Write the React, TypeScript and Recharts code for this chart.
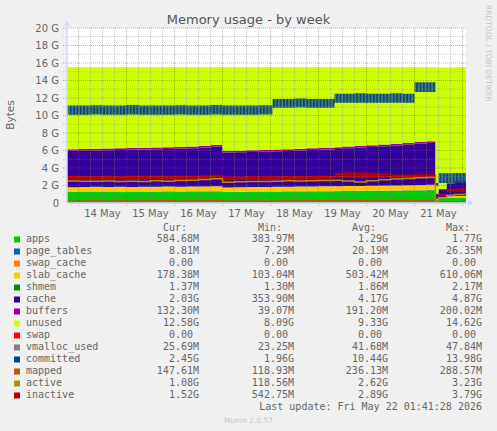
import React from 'react'
import { ComposedChart, Area, Line, XAxis, YAxis, ReferenceLine } from 'recharts'

// hours since 14 May 00:00 (plot spans 13 May ~18:15 .. 22 May ~01:45)
const hours = [-5.75, 0, 6, 12, 18, 24, 30, 36, 42, 48, 54, 60, 66, 72, 78, 84, 90, 97, 102, 108, 114, 120, 128, 132, 138, 144, 150, 156, 162, 168, 174, 178.5, 180, 184, 188, 193.75]

// values in GiB
const apps = [1.27, 1.28, 1.29, 1.28, 1.3, 1.29, 1.3, 1.29, 1.31, 1.3, 1.32, 1.31, 1.33, 1.26, 1.27, 1.28, 1.29, 1.3, 1.31, 1.32, 1.33, 1.33, 1.35, 1.36, 1.37, 1.38, 1.39, 1.4, 1.42, 1.44, 1.47, 0.38, 0.55, 0.6, 0.63, 0.58]
const pageTables = [0.021, 0.021, 0.022, 0.021, 0.022, 0.021, 0.022, 0.022, 0.022, 0.021, 0.022, 0.022, 0.023, 0.02, 0.02, 0.021, 0.021, 0.021, 0.022, 0.022, 0.022, 0.022, 0.023, 0.023, 0.023, 0.024, 0.024, 0.025, 0.025, 0.026, 0.026, 0.007, 0.008, 0.008, 0.009, 0.009]
const swapCache = [0, 0, 0, 0, 0, 0, 0, 0, 0, 0, 0, 0, 0, 0, 0, 0, 0, 0, 0, 0, 0, 0, 0, 0, 0, 0, 0, 0, 0, 0, 0, 0, 0, 0, 0, 0]
const slabCache = [0.52, 0.52, 0.53, 0.52, 0.53, 0.52, 0.53, 0.53, 0.54, 0.53, 0.54, 0.54, 0.55, 0.5, 0.51, 0.52, 0.52, 0.53, 0.53, 0.54, 0.54, 0.55, 0.55, 0.56, 0.56, 0.57, 0.57, 0.58, 0.58, 0.59, 0.6, 0.1, 0.14, 0.16, 0.17, 0.18]
const shmem = [0.002, 0.002, 0.002, 0.002, 0.002, 0.002, 0.002, 0.002, 0.002, 0.002, 0.002, 0.002, 0.002, 0.002, 0.002, 0.002, 0.002, 0.002, 0.002, 0.002, 0.002, 0.002, 0.002, 0.002, 0.002, 0.002, 0.002, 0.002, 0.002, 0.002, 0.002, 0.0013, 0.0013, 0.0013, 0.0013, 0.0013]
const cache = [4.15, 4.16, 4.17, 4.21, 4.2, 4.25, 4.25, 4.29, 4.29, 4.36, 4.37, 4.45, 4.52, 3.98, 3.99, 4.0, 4.03, 4.05, 4.09, 4.12, 4.16, 4.2, 4.26, 4.31, 4.37, 4.43, 4.5, 4.55, 4.63, 4.7, 4.76, 0.57, 0.82, 1.42, 1.67, 2.03]
const buffers = [0.19, 0.19, 0.19, 0.19, 0.2, 0.19, 0.2, 0.2, 0.2, 0.19, 0.2, 0.2, 0.2, 0.19, 0.19, 0.2, 0.2, 0.2, 0.2, 0.2, 0.2, 0.2, 0.2, 0.2, 0.2, 0.2, 0.2, 0.2, 0.2, 0.2, 0.2, 0.04, 0.08, 0.11, 0.12, 0.13]
const unused = [9.35, 9.33, 9.3, 9.28, 9.25, 9.23, 9.2, 9.17, 9.14, 9.1, 9.05, 8.98, 8.88, 9.55, 9.52, 9.48, 9.44, 9.4, 9.35, 9.3, 9.25, 9.2, 9.12, 9.05, 8.98, 8.9, 8.82, 8.75, 8.65, 8.55, 8.45, 14.4, 13.9, 13.2, 12.9, 12.57]
const swap = [0, 0, 0, 0, 0, 0, 0, 0, 0, 0, 0, 0, 0, 0, 0, 0, 0, 0, 0, 0, 0, 0, 0, 0, 0, 0, 0, 0, 0, 0, 0, 0, 0, 0, 0, 0]
const vmallocUsed = [0.044, 0.045, 0.045, 0.046, 0.045, 0.046, 0.046, 0.045, 0.046, 0.046, 0.047, 0.046, 0.047, 0.045, 0.045, 0.046, 0.046, 0.046, 0.047, 0.047, 0.047, 0.047, 0.047, 0.048, 0.047, 0.048, 0.048, 0.047, 0.048, 0.048, 0.048, 0.023, 0.024, 0.025, 0.026, 0.026]
// committed and inactive jitter fast, kept as low/high envelope per step
const committedLo = [10.1, 10.1, 10.12, 10.1, 10.1, 10.12, 10.1, 10.1, 10.1, 10.12, 10.1, 10.1, 10.12, 10.1, 10.1, 10.1, 10.12, 10.9, 10.9, 10.92, 10.9, 10.9, 11.45, 11.45, 11.47, 11.45, 11.45, 11.47, 11.45, 12.7, 12.7, 1.96, 2.3, 2.3, 2.32, 2.3]
const committedHi = [11.15, 11.15, 11.18, 11.15, 11.15, 11.2, 11.15, 11.15, 11.15, 11.18, 11.15, 11.15, 11.2, 11.15, 11.15, 11.15, 11.18, 11.9, 11.9, 11.95, 11.9, 11.9, 12.5, 12.5, 12.55, 12.5, 12.5, 12.55, 12.5, 13.8, 13.8, 2.3, 3.4, 3.4, 3.42, 3.4]
const mapped = [0.24, 0.24, 0.25, 0.24, 0.25, 0.24, 0.25, 0.25, 0.25, 0.24, 0.25, 0.25, 0.26, 0.23, 0.23, 0.24, 0.24, 0.24, 0.25, 0.25, 0.25, 0.26, 0.26, 0.26, 0.27, 0.27, 0.27, 0.28, 0.28, 0.28, 0.29, 0.12, 0.13, 0.14, 0.15, 0.15]
const active = [2.52, 2.5, 2.48, 2.52, 2.45, 2.5, 2.47, 2.53, 2.5, 2.56, 2.6, 2.68, 2.78, 2.38, 2.42, 2.45, 2.47, 2.5, 2.53, 2.52, 2.55, 2.57, 2.6, 2.52, 2.4, 2.55, 2.66, 2.74, 2.8, 2.88, 2.92, 0.12, 0.6, 0.85, 0.98, 1.08]
const inactiveLo = [2.62, 2.62, 2.63, 2.62, 2.64, 2.63, 2.64, 2.65, 2.66, 2.66, 2.68, 2.7, 2.72, 2.58, 2.59, 2.6, 2.61, 2.62, 2.63, 2.64, 2.65, 2.66, 2.85, 2.88, 2.9, 2.88, 2.86, 2.82, 2.83, 2.85, 2.86, 0.55, 0.75, 1.25, 1.3, 1.4]
const inactiveHi = [3.08, 3.1, 3.09, 3.11, 3.1, 3.12, 3.11, 3.13, 3.12, 3.14, 3.15, 3.18, 3.22, 3.02, 3.03, 3.05, 3.06, 3.07, 3.08, 3.1, 3.11, 3.12, 3.42, 3.48, 3.5, 3.46, 3.4, 3.25, 3.26, 3.28, 3.3, 0.72, 1.0, 1.6, 1.65, 1.6]

const dayTicks = [12, 36, 60, 84, 108, 132, 156, 180]
const dayLabels = ['14 May', '15 May', '16 May', '17 May', '18 May', '19 May', '20 May', '21 May']
const yTicks = [0, 2, 4, 6, 8, 10, 12, 14, 16, 18, 20]
const gridMajorY = [2, 4, 6, 8, 10, 12, 14, 16, 18, 20]
const gridMinorY = [1, 3, 5, 7, 9, 11, 13, 15, 17, 19]
const gridMajorX = [0, 24, 48, 72, 96, 120, 144, 168, 192]
const gridMinorX = [6, 12, 18, 30, 36, 42, 54, 60, 66, 78, 84, 90, 102, 108, 114, 126, 132, 138, 150, 156, 162, 174, 180, 186]

const legendNames = ['apps', 'page_tables', 'swap_cache', 'slab_cache', 'shmem', 'cache', 'buffers', 'unused', 'swap', 'vmalloc_used', 'committed', 'mapped', 'active', 'inactive']
const legendColors = ['#00CC00', '#0066B3', '#FF8000', '#FFCC00', '#008F00', '#330099', '#990099', '#CCFF00', '#FF0000', '#808080', '#00487D', '#B35A00', '#B38F00', '#B30000']
const curVals = ['584.68M', '8.81M', '0.00 ', '178.38M', '1.37M', '2.03G', '132.30M', '12.58G', '0.00 ', '25.69M', '2.45G', '147.61M', '1.08G', '1.52G']
const minVals = ['383.97M', '7.29M', '0.00 ', '103.04M', '1.30M', '353.90M', '39.07M', '8.09G', '0.00 ', '23.25M', '1.96G', '118.93M', '118.56M', '542.75M']
const avgVals = ['1.29G', '20.19M', '0.00 ', '503.42M', '1.86M', '4.17G', '191.20M', '9.33G', '0.00 ', '41.68M', '10.44G', '236.13M', '2.62G', '2.89G']
const maxVals = ['1.77G', '26.35M', '0.00 ', '610.06M', '2.17M', '4.87G', '200.02M', '14.62G', '0.00 ', '47.84M', '13.98G', '288.57M', '3.23G', '3.79G']

const rows = hours.map((t, i) => ({
  t,
  apps: apps[i],
  page_tables: pageTables[i],
  swap_cache: swapCache[i],
  slab_cache: slabCache[i],
  shmem: shmem[i],
  cache: cache[i],
  buffers: buffers[i],
  unused: unused[i],
  swap: swap[i],
  vmalloc_used: vmallocUsed[i],
  committed: [committedLo[i], committedHi[i]],
  mapped: mapped[i],
  active: active[i],
  inactive: [inactiveLo[i], inactiveHi[i]],
}))

const stacked = ['apps', 'page_tables', 'swap_cache', 'slab_cache', 'shmem', 'cache', 'buffers', 'unused', 'swap']

const SANS = '"DejaVu Sans", sans-serif'
const MONO = '"DejaVu Sans Mono", monospace'
const FONT = '#666666'
const AXIS = '#CFD6F8'
const GRID = 'rgba(140,140,140,0.45)'
const MGRID = 'rgba(220,40,40,0.45)'

function colorOf(name: string) {
  return legendColors[legendNames.indexOf(name)]
}

export default function App() {
  const colEnds = [199, 294, 388, 482]
  const headers = ['Cur:', 'Min:', 'Avg:', 'Max:']
  const cols = [curVals, minVals, avgVals, maxVals]

  return (
    <div style={{ position: 'absolute', left: 0, top: 0, width: 497, height: 431, background: '#F0F0F0', overflow: 'hidden' }}>
      <div style={{ position: 'absolute', left: 0, top: 0 }}>
        <ComposedChart width={497} height={230} data={rows} margin={{ top: 28, right: 31, bottom: 0, left: 0 }}>
          <defs>
            <pattern id="commitComb" patternUnits="userSpaceOnUse" width="3.33" height="6">
              <rect x="0" y="0" width="2.2" height="6" fill="#0a4580" />
              <rect x="2.2" y="0" width="1.13" height="6" fill="#14609a" fillOpacity="0.8" />
            </pattern>
          </defs>
          <rect x={67} y={28} width={399} height={175} fill="#FFFFFF" />
          <XAxis
            dataKey="t"
            type="number"
            domain={[-5.75, 193.75]}
            ticks={dayTicks}
            interval={0}
            tickFormatter={(v: number) => dayLabels[dayTicks.indexOf(v)]}
            tick={{ fill: FONT, fontSize: 10, fontFamily: SANS }}
            tickLine={false}
            tickSize={0}
            tickMargin={7}
            axisLine={{ stroke: AXIS }}
            height={27}
          />
          <YAxis
            type="number"
            domain={[0, 20]}
            ticks={yTicks}
            interval={0}
            tickFormatter={(v: number) => (v === 0 ? '0' : `${v} G`)}
            tick={{ fill: FONT, fontSize: 10, fontFamily: SANS }}
            tickLine={false}
            tickSize={0}
            tickMargin={8}
            axisLine={{ stroke: AXIS }}
            width={67}
          />
          {stacked.map((k) => (
            <Area
              key={k}
              dataKey={k}
              stackId="mem"
              type="stepAfter"
              fill={colorOf(k)}
              fillOpacity={1}
              stroke="none"
              dot={false}
              activeDot={false}
              isAnimationActive={false}
            />
          ))}
          <Line dataKey="vmalloc_used" type="stepAfter" stroke={colorOf('vmalloc_used')} strokeWidth={1} dot={false} activeDot={false} isAnimationActive={false} />
          <Area dataKey="committed" type="stepAfter" fill="url(#commitComb)" fillOpacity={1} stroke="none" dot={false} activeDot={false} isAnimationActive={false} />
          <Line dataKey="mapped" type="stepAfter" stroke={colorOf('mapped')} strokeWidth={1.5} dot={false} activeDot={false} isAnimationActive={false} />
          <Line dataKey="active" type="stepAfter" stroke={colorOf('active')} strokeWidth={1.5} dot={false} activeDot={false} isAnimationActive={false} />
          <Area dataKey="inactive" type="stepAfter" fill={colorOf('inactive')} fillOpacity={1} stroke="none" dot={false} activeDot={false} isAnimationActive={false} />
          {gridMinorY.map((v) => (
            <ReferenceLine key={'my' + v} segment={[{ x: -7.75, y: v }, { x: 193.75, y: v }]} stroke={GRID} strokeDasharray="1 1" ifOverflow="visible" />
          ))}
          {gridMinorX.map((v) => (
            <ReferenceLine key={'mx' + v} segment={[{ x: v, y: 0 }, { x: v, y: 20 }]} stroke={GRID} strokeDasharray="1 1" ifOverflow="visible" />
          ))}
          {gridMajorY.map((v) => (
            <ReferenceLine key={'My' + v} segment={[{ x: -7.75, y: v }, { x: 193.75, y: v }]} stroke={MGRID} strokeDasharray="1 1" ifOverflow="visible" />
          ))}
          {gridMajorX.map((v) => (
            <ReferenceLine key={'Mx' + v} segment={[{ x: v, y: -0.35 }, { x: v, y: 20 }]} stroke={MGRID} strokeDasharray="1 1" ifOverflow="visible" />
          ))}
        </ComposedChart>
      </div>
      <svg width={497} height={431} style={{ position: 'absolute', left: 0, top: 0, pointerEvents: 'none' }}>
        {/* axis extensions + arrows */}
        <line x1={67} y1={203} x2={67} y2={25} stroke={AXIS} />
        <polygon points="64,26 70,26 67,21" fill={AXIS} />
        <line x1={67} y1={203} x2={469} y2={203} stroke={AXIS} />
        <polygon points="468,200 468,206 473.5,203" fill={AXIS} />

        <text x={248.5} y={24} textAnchor="middle" fontFamily={SANS} fontSize={13} fill="#555">
          Memory usage - by week
        </text>
        <text transform="translate(13.5,115) rotate(-90)" textAnchor="middle" fontFamily={SANS} fontSize={10.5} fill={FONT}>
          Bytes
        </text>
        <text transform="translate(486,5) rotate(90)" fontFamily={SANS} fontSize={7.5} fill="#c4c4c4">
          RRDTOOL / TOBI OETIKER
        </text>

        {headers.map((h, j) => (
          <text key={h} x={colEnds[j] - 12} y={231} textAnchor="end" fontFamily={MONO} fontSize={10} fill={FONT}>
            {h}
          </text>
        ))}
        {legendNames.map((n, i) => {
          const base = 242.3 + i * 12
          return (
            <g key={n}>
              <rect x={14} y={base - 5.8} width={6} height={6} fill={legendColors[i]} />
              <text x={26} y={base} fontFamily={MONO} fontSize={10} fill={FONT}>
                {n}
              </text>
              {cols.map((c, j) => (
                <text key={j} x={colEnds[j]} y={base} textAnchor="end" fontFamily={MONO} fontSize={10} fill={FONT} xmlSpace="preserve" style={{ whiteSpace: 'pre' }}>
                  {c[i]}
                </text>
              ))}
            </g>
          )
        })}
        <text x={482} y={410.3} textAnchor="end" fontFamily={MONO} fontSize={10} fill={FONT}>
          Last update: Fri May 22 01:41:28 2026
        </text>
        <text x={248.5} y={423.3} textAnchor="middle" fontFamily={SANS} fontSize={7.5} fill="#c4c4c4">
          Munin 2.0.57
        </text>
      </svg>
    </div>
  )
}
